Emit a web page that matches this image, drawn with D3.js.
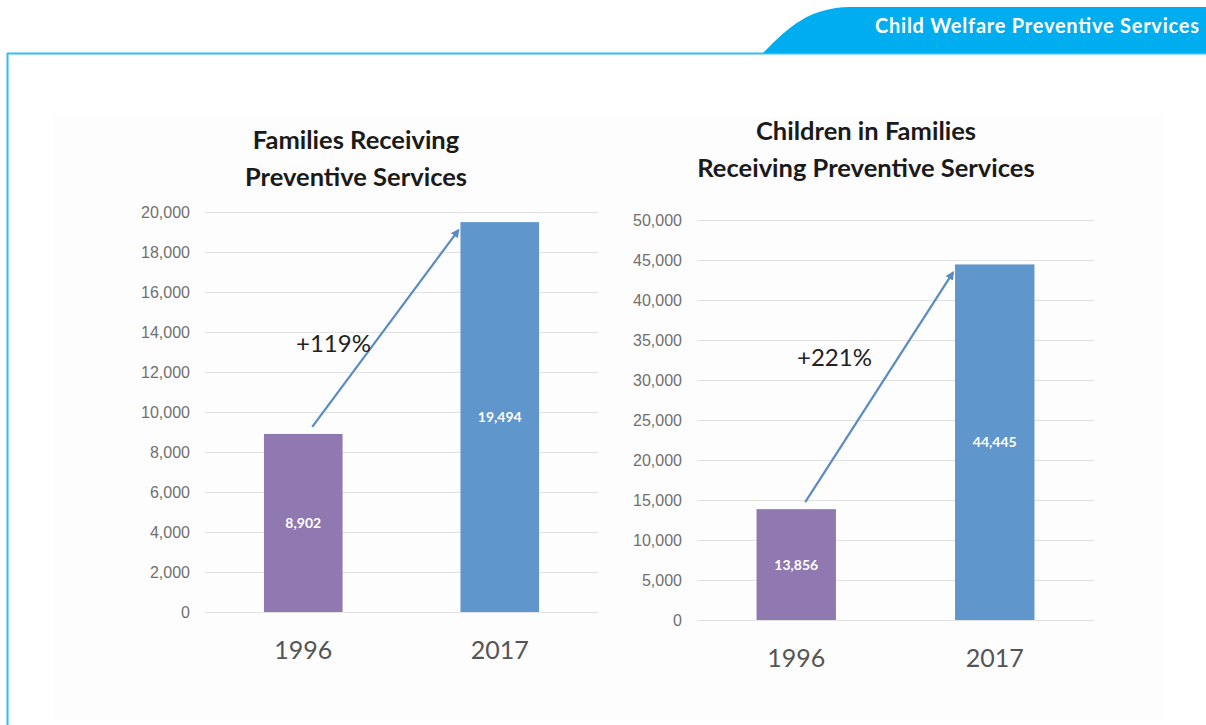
<!DOCTYPE html>
<html>
<head>
<meta charset="utf-8">
<script src="https://cdn.jsdelivr.net/npm/d3@7"></script>
<style>
  body { margin: 0; background: #fff; }
  svg { display: block; font-family: Lato, "Open Sans", sans-serif; }
  .tick text { fill: #707070; font-size: 16px; }
  .title { font-weight: bold; font-size: 25.5px; fill: #1a1a1a; }
  .cat { font-size: 25px; fill: #555; }
  .val { font-weight: bold; font-size: 14px; fill: #fff; }
  .pct { font-size: 24px; fill: #222; }
</style>
</head>
<body>
<script>
const w = 1206;
const h = 725;

const years = ["1996", "2017"];
const families = [8902, 19494];
const children = [13856, 44445];
const familyTicks = [0, 2000, 4000, 6000, 8000, 10000, 12000, 14000, 16000, 18000, 20000];
const childTicks = [0, 5000, 10000, 15000, 20000, 25000, 30000, 35000, 40000, 45000, 50000];
const barColors = ["#9079b1", "#5f96cb"];

const svg = d3.select("body").append("svg").attr("width", w).attr("height", h);

// faint panel behind the charts
svg.append("rect")
  .attr("x", 53).attr("y", 117).attr("width", 1112).attr("height", 603)
  .attr("fill", "#fdfdfd");

// header frame
svg.append("line")
  .attr("x1", 7).attr("y1", 53.5).attr("x2", w).attr("y2", 53.5)
  .attr("stroke", "#35bdf0").attr("stroke-width", 2);
svg.append("line")
  .attr("x1", 7.5).attr("y1", 53).attr("x2", 7.5).attr("y2", h)
  .attr("stroke", "#35bdf0").attr("stroke-width", 2);
svg.append("path")
  .attr("d", "M763,53 C790,25 810,8 850,7 L1206,7 L1206,53 Z")
  .attr("fill", "#00aeef");
svg.append("text")
  .attr("x", 1199).attr("y", 33)
  .attr("text-anchor", "end")
  .attr("font-weight", "bold")
  .attr("font-size", 20)
  .attr("fill", "#fff")
  .attr("textLength", 324)
  .text("Child Welfare Preventive Services");

const defs = svg.append("defs");
defs.append("marker")
  .attr("id", "arrow")
  .attr("viewBox", "0 0 10 10")
  .attr("refX", 8).attr("refY", 5)
  .attr("markerWidth", 4).attr("markerHeight", 4)
  .attr("orient", "auto")
  .append("path")
  .attr("d", "M0,0 L10,5 L0,10 Z")
  .attr("fill", "#5a8bc2");

const drawChart = (o) => {
  const y = d3.scaleLinear().domain([0, o.max]).range([o.bottom, o.top]);
  const x = d3.scaleBand().domain(years).range([o.left, o.right])
    .paddingInner(0.6).paddingOuter(0.3);

  const g = svg.append("g");

  // title
  o.title.forEach((t, i) => {
    g.append("text")
      .attr("class", "title")
      .attr("x", o.titleX)
      .attr("y", o.titleY + i * 37)
      .attr("text-anchor", "middle")
      .text(t);
  });

  // y-axis with grid
  const yAxis = d3.axisLeft(y)
    .tickValues(o.ticks)
    .tickSize(-(o.right - o.left))
    .tickPadding(15)
    .tickFormat(d3.format(","));
  const yAG = g.append("g")
    .attr("transform", `translate(${o.left},0)`)
    .call(yAxis);
  yAG.select(".domain").remove();
  yAG.selectAll(".tick line").attr("stroke", "#e2e2e2");
  yAG.selectAll(".tick text").attr("dy", "0.35em");

  // bars
  g.selectAll("rect.bar")
    .data(o.values)
    .enter()
    .append("rect")
    .attr("class", "bar")
    .attr("x", (d, i) => x(years[i]))
    .attr("y", (d) => y(d))
    .attr("width", x.bandwidth())
    .attr("height", (d) => y(0) - y(d))
    .attr("fill", (d, i) => barColors[i]);

  // value labels
  g.selectAll("text.val")
    .data(o.values)
    .enter()
    .append("text")
    .attr("class", "val")
    .attr("x", (d, i) => x(years[i]) + x.bandwidth() / 2)
    .attr("y", (d) => (y(0) + y(d)) / 2 + 5)
    .attr("text-anchor", "middle")
    .text(d3.format(","));

  // categories
  g.selectAll("text.cat")
    .data(years)
    .enter()
    .append("text")
    .attr("class", "cat")
    .attr("x", (d) => x(d) + x.bandwidth() / 2)
    .attr("y", o.bottom + 47)
    .attr("text-anchor", "middle")
    .text((d) => d);

  // growth arrow
  const x0 = x(years[0]) + x.bandwidth() / 2 + 9;
  const y0 = y(o.values[0]) - 7;
  const x1 = x(years[1]) - 2;
  const y1 = y(o.values[1]) + o.arrowGap;
  g.append("line")
    .attr("x1", x0).attr("y1", y0)
    .attr("x2", x1).attr("y2", y1)
    .attr("stroke", "#5a8bc2")
    .attr("stroke-width", 2.2)
    .attr("marker-end", "url(#arrow)");

  const pct = Math.round((o.values[1] / o.values[0] - 1) * 100);
  g.append("text")
    .attr("class", "pct")
    .attr("x", o.pctX)
    .attr("y", o.pctY)
    .text(`+${pct}%`);
};

drawChart({
  title: ["Families Receiving", "Preventive Services"],
  titleX: 356, titleY: 149,
  values: families, ticks: familyTicks, max: 20000,
  left: 205, right: 598, top: 212, bottom: 612,
  arrowGap: 8, pctX: 296, pctY: 352
});

drawChart({
  title: ["Children in Families", "Receiving Preventive Services"],
  titleX: 866, titleY: 140,
  values: children, ticks: childTicks, max: 50000,
  left: 697, right: 1094, top: 220, bottom: 620,
  arrowGap: 8, pctX: 797, pctY: 366
});
</script>
</body>
</html>
